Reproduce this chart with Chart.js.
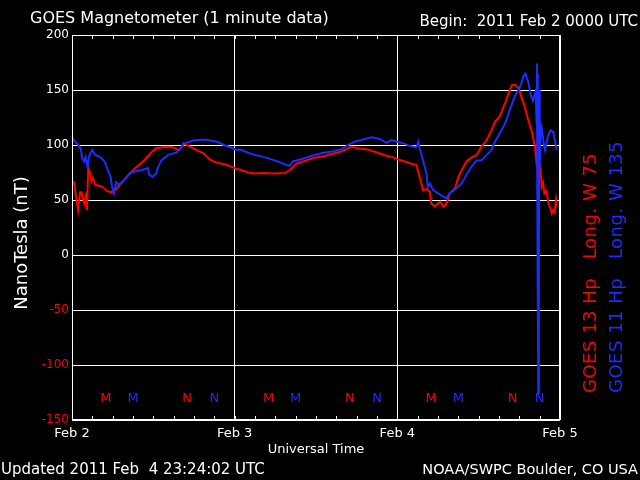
<!DOCTYPE html>
<html>
<head>
<meta charset="utf-8">
<script src="https://cdn.jsdelivr.net/npm/chart.js@4/dist/chart.umd.min.js"></script>
<style>
  html, body { margin: 0; padding: 0; background: #000; }
  #wrap { width: 640px; height: 480px; }
</style>
</head>
<body>
<div id="wrap"><canvas id="magChart" width="640" height="480"></canvas></div>
<script>
// hours since 2011 Feb 2 0000 UTC
const g13Hours = [0, 0.3, 0.6, 0.9, 1.2, 1.4, 1.8, 2.0, 2.2, 2.4, 2.7, 2.9, 3.1, 3.4, 4.0, 4.5, 5.2, 6.0, 6.7, 7.5,
  8.5, 9.5, 10.5, 11.5, 12.4, 13.9, 14.9, 15.6, 16.1, 16.5, 16.9, 17.9, 19.4, 20.3, 21.3, 22.8,
  24, 25, 26, 26.9, 28.4, 29.9, 31.4, 32.1, 32.6, 33.1, 34.3, 35.8, 37.3, 38.7, 39.7, 40.4, 41.2,
  42.1, 43.6, 45.1, 46.5, 47.3, 48, 49.1, 50.1, 50.8, 51.3, 51.8, 52.3, 52.8, 53.0, 53.5, 54.3,
  54.8, 55.3, 55.7, 56.5, 57, 57.5, 58.2, 58.9, 59.7, 60.4, 61.2, 61.9, 62.4, 63.1, 63.9, 64.4,
  64.9, 65.3, 65.9, 66.3, 66.8, 67.3, 67.8, 68.3, 68.5, 68.7, 68.9, 69.1, 69.3, 69.5, 69.7, 70.0,
  70.3, 70.6, 70.8, 71.0, 71.2, 71.4, 71.5];
const g13Values = [67, 66, 53, 41, 57, 57, 47, 53, 41, 79, 74, 67, 70, 64, 63, 62, 58, 57, 61, 67,
  74, 80, 85, 92, 97, 98.5, 98, 95.5, 97, 101.5, 100, 97, 92.5, 87, 84, 82,
  79, 77, 75, 74, 74.5, 74, 74.5, 77, 80, 83, 85.5, 88.5, 90, 92.5, 94, 96, 98.5,
  97, 96, 93, 90, 89, 87, 85, 83, 82, 71, 59, 60, 57.5, 47, 44, 48.5,
  44, 47, 56, 60.5, 71, 77, 85, 88.5, 91, 98.5, 104.5, 113.5, 121, 126, 138, 147,
  154.5, 155, 151.5, 144, 135, 123, 113.5, 98.5, 86, 98, 77, 80, 62, 66, 56, 58,
  47, 42, 38, 41, 39, 50, 44];

const g11Hours = [0, 0.3, 0.8, 1.3, 1.5, 1.8, 2.0, 2.3, 2.5, 2.7, 3.0, 3.4, 4.2, 4.8, 5.3, 5.7, 5.9, 6.2, 6.5, 6.9,
  7.7, 8.5, 9.2, 10.2, 11.2, 11.4, 11.9, 12.4, 12.7, 13.2, 14.2, 15.4, 15.9, 16.4, 17.2, 17.9, 19.5,
  20.4, 21.4, 22.4, 23.4, 24, 25, 26, 26.9, 28.4, 29.9, 31.4, 32.1, 32.6, 33.8, 35.3, 36.8, 38.3,
  39.7, 40.7, 41.7, 42.7, 44.2, 45.4, 46.4, 47.1, 48, 48.9, 49.9, 50.8, 51.1, 51.3, 51.8, 52.3,
  52.5, 52.8, 53.3, 54.0, 54.8, 55.3, 55.7, 56.7, 57.5, 58.2, 58.9, 59.7, 60.4, 61.2, 61.9, 62.4,
  63.1, 63.9, 64.6, 65.3, 66.1, 66.6, 66.9, 67.3, 67.7, 68.0, 68.4, 68.55, 68.6, 68.65, 68.7, 68.75,
  68.8, 68.85, 68.9, 68.95, 69.0, 69.2, 69.6, 69.8, 70.2, 70.6, 71.0, 71.2, 71.5];
const g11Values = [107.5, 104, 101, 97, 88, 85, 89, 80, 89, 92.5, 95.5, 91, 89, 85, 77, 71, 62, 56, 66, 64,
  68, 74, 76, 77, 79, 73, 71, 74, 80, 86, 91, 93, 95.5, 101.5, 102.5, 104, 105,
  104, 103, 100, 98, 96, 95.5, 93, 91, 89, 86, 82.5, 81, 85, 87, 90, 92.5, 94,
  96, 100, 103, 104.5, 107, 105.5, 102, 104.5, 103, 101.5, 99, 98, 103, 97, 86, 74,
  62, 65, 59, 56, 53, 51.5, 56, 60.5, 65, 73, 80, 86, 86, 91, 95.5, 103,
  110.5, 119.5, 132, 144, 153, 162, 165, 157.5, 145.5, 140, 148.5, 120, 174, 60, 165, -47,
  -126, 120, -30, 150, 80, 119.5, 101.5, 95.5, 107.5, 113.5, 112, 106, 95.5];

const dayLabels = ["Feb 2", "Feb 3", "Feb 4", "Feb 5"];
const yTicks = [-150, -100, -50, 0, 50, 100, 150, 200];

// local midnight (M) and noon (N) of each satellite
const markHours = [5, 9, 17, 21, 29, 33, 41, 45, 53, 57, 65, 69];
const markText = ["M", "M", "N", "N", "M", "M", "N", "N", "M", "M", "N", "N"];
const markSat = ["g13", "g11", "g13", "g11", "g13", "g11", "g13", "g11", "g13", "g11", "g13", "g11"];

const RED = "#ff0000";
const BLUE = "#1e2cff";
const FONT = "'DejaVu Sans', sans-serif";
const satColor = { g13: RED, g11: BLUE };

const toPoints = (hs, vs) => hs.map((h, i) => ({ x: h, y: vs[i] }));

const extras = {
  id: "extras",
  beforeDraw(chart) {
    const c = chart.ctx;
    c.save();
    c.fillStyle = "#000";
    c.fillRect(0, 0, chart.width, chart.height);
    c.restore();
  },
  afterDatasetsDraw(chart) {
    const c = chart.ctx;
    const a = chart.chartArea;
    const xs = chart.scales.x;
    c.save();
    // small 3-hour ticks at top and bottom
    c.strokeStyle = "#fff";
    c.lineWidth = 1;
    xs.ticks.forEach(t => {
      const px = Math.round(xs.getPixelForValue(t.value)) + 0.5;
      c.beginPath();
      c.moveTo(px, a.top); c.lineTo(px, a.top + 4);
      c.moveTo(px, a.bottom); c.lineTo(px, a.bottom - 4);
      c.stroke();
    });
    // frame
    c.strokeRect(Math.round(a.left) + 0.5, Math.round(a.top) + 0.5,
      Math.round(a.right - a.left) - 1, Math.round(a.bottom - a.top) - 1);

    // M / N markers
    c.font = "13px " + FONT;
    c.textAlign = "center";
    c.textBaseline = "middle";
    const my = chart.scales.y.getPixelForValue(-131);
    markHours.forEach((h, i) => {
      c.fillStyle = satColor[markSat[i]];
      c.fillText(markText[i], xs.getPixelForValue(h), my);
    });
    c.restore();
  },
  afterDraw(chart) {
    const c = chart.ctx;
    c.save();
    c.fillStyle = "#fff";
    c.textBaseline = "alphabetic";
    c.font = "16px " + FONT;
    c.textAlign = "left";
    c.fillText("GOES Magnetometer (1 minute data)", 30, 23);
    c.font = "15px " + FONT;
    c.textAlign = "right";
    c.fillText("Begin:  2011 Feb 2 0000 UTC", 638, 26);

    c.font = "15px " + FONT;
    c.textAlign = "left";
    c.fillText("Updated 2011 Feb  4 23:24:02 UTC", 1, 474);
    c.font = "14.5px " + FONT;
    c.textAlign = "right";
    c.fillText("NOAA/SWPC Boulder, CO USA", 638, 474);

    // y axis title
    c.save();
    c.translate(27, 243);
    c.rotate(-Math.PI / 2);
    c.textAlign = "center";
    c.font = "18px " + FONT;
    c.fillText("NanoTesla (nT)", 0, 0);
    c.restore();

    // satellite labels on the right
    c.font = "18px " + FONT;
    c.textAlign = "left";
    c.letterSpacing = "0.5px";
    [["GOES 13 Hp   Long. W 75", RED, 596], ["GOES 11 Hp   Long. W 135", BLUE, 622]].forEach(([txt, col, bx]) => {
      c.save();
      c.translate(bx, 393);
      c.rotate(-Math.PI / 2);
      c.fillStyle = col;
      c.fillText(txt, 0, 0);
      c.restore();
    });
    c.restore();
  }
};

const ctx = document.getElementById("magChart").getContext("2d");
new Chart(ctx, {
  type: "line",
  data: {
    datasets: [
      { label: "GOES 11 Hp", data: toPoints(g11Hours, g11Values), borderColor: BLUE, borderWidth: 2 },
      { label: "GOES 13 Hp", data: toPoints(g13Hours, g13Values), borderColor: RED, borderWidth: 2 }
    ]
  },
  options: {
    responsive: false,
    animation: false,
    parsing: false,
    elements: { point: { radius: 0 }, line: { tension: 0 } },
    layout: { padding: { top: 35, right: 80, bottom: 0, left: 0 } },
    plugins: { legend: { display: false }, tooltip: { enabled: false } },
    scales: {
      x: {
        type: "linear",
        min: 0,
        max: 72,
        afterFit: s => { s.height = 60; },
        afterBuildTicks: s => { s.ticks = Array.from({ length: 25 }, (_, i) => ({ value: i * 3 })); },
        ticks: {
          autoSkip: false,
          maxRotation: 0,
          padding: 6,
          color: "#fff",
          font: { family: FONT, size: 13 },
          callback: v => (v % 24 === 0 ? dayLabels[v / 24] : "")
        },
        grid: {
          drawTicks: false,
          color: c => (c.tick && c.tick.value % 24 === 0 ? "#fff" : "rgba(0,0,0,0)")
        },
        border: { display: false },
        title: {
          display: true,
          text: "Universal Time",
          color: "#fff",
          font: { family: FONT, size: 13 },
          padding: { top: 0, bottom: 23 }
        }
      },
      y: {
        min: -150,
        max: 200,
        afterFit: s => { s.width = 72; },
        afterBuildTicks: s => { s.ticks = yTicks.map(v => ({ value: v })); },
        ticks: {
          padding: 3,
          color: c => (c.tick.value < 0 ? RED : "#fff"),
          font: { family: FONT, size: 12 }
        },
        grid: { drawTicks: false, color: "#fff" },
        border: { display: false }
      }
    }
  },
  plugins: [extras]
});
</script>
</body>
</html>
